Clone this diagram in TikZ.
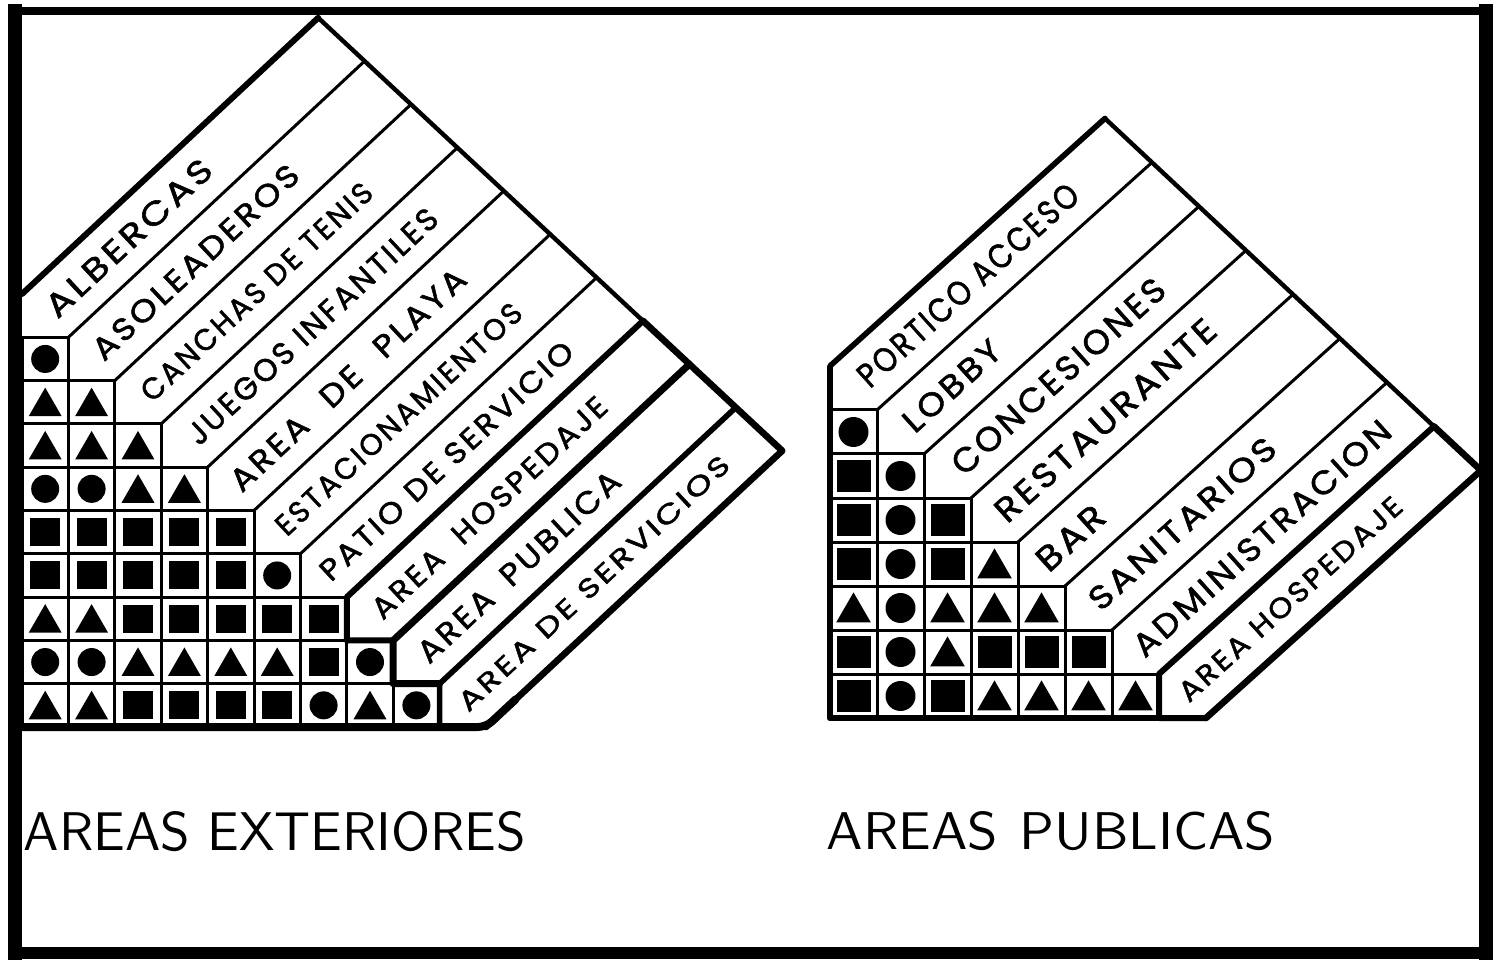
\documentclass[tikz,border=0pt]{standalone}
\usepackage{fontspec}
\usepackage{graphicx}
\usetikzlibrary{shapes.geometric,calc}
\newfontfamily\labfont{Poppins}[LetterSpace=9,FakeBold=1.6]
\begin{document}
\begin{tikzpicture}[x=0.5pt,y=-0.5pt,line join=round,line cap=round,
  thinln/.style={line width=1.5pt},
  medln/.style={line width=2.2pt},
  thkln/.style={line width=3.3pt},
  lab/.style={inner sep=0pt,outer sep=0pt},
  symC/.style={circle,fill,inner sep=0pt,minimum size=14pt},
  symS/.style={rectangle,fill,inner sep=0pt,minimum width=15pt,minimum height=14pt},
  symT/.style={regular polygon,regular polygon sides=3,fill,inner sep=0pt,minimum size=19pt,yshift=-2.2pt},
  rsymC/.style={symC,minimum size=15pt},
  rsymS/.style={symS,minimum width=17pt,minimum height=16pt},
  rsymT/.style={symT,minimum size=20pt}]
\fill[white] (0,0) rectangle (1499,962);
\useasboundingbox (0,0) rectangle (1499,962);

% ---------------- page frame ----------------
\coordinate (FTL) at (15,11);
\coordinate (FTR) at (1486,11);
\coordinate (FBR) at (1486,953);
\coordinate (FBL) at (15,953);
\draw[line width=4pt,line cap=rect] (FTL) -- (FTR);
\draw[line width=7pt,line cap=rect] (FTR) -- (FBR);
\draw[line width=6pt,line cap=rect] (FBR) -- (FBL);
\draw[line width=7pt,line cap=rect] (FBL) -- (FTL);

% ================= LEFT MATRIX =================
\def\LX{22}\def\LY{294}\def\LW{46.4}\def\LH{43.3}\def\LA{43}\def\LL{405}
\foreach \j in {0,...,10}{
  \pgfmathsetmacro\px{\LX+\j*\LW}\pgfmathsetmacro\py{\LY+\j*\LH}
  \pgfmathsetmacro\tx{\px+\LL*cos(\LA)}\pgfmathsetmacro\ty{\py-\LL*sin(\LA)}
  \pgfmathsetmacro\sy{\py+\LH}
  \coordinate (LP\j) at (\px,\py);
  \coordinate (LT\j) at (\tx,\ty);
  \coordinate (LS\j) at (\px,\sy);
}
\coordinate (LB) at (15,{\LY+10*\LH});
% cells
\foreach \r in {1,...,9}{\foreach \c in {1,...,\r}{
  \draw[thinln] ({\LX+(\c-1)*\LW},{\LY+\r*\LH}) rectangle ({\LX+\c*\LW},{\LY+(\r+1)*\LH});
}}
% symbols
\foreach \r/\row in {1/{C},2/{T,T},3/{T,T,T},4/{C,C,T,T},5/{S,S,S,S,S},6/{S,S,S,S,S,C},7/{T,T,S,S,S,S,S},8/{C,C,T,T,T,T,S,C},9/{T,T,S,S,S,S,C,T,C}}{
  \foreach \sy [count=\c] in \row {
    \pgfmathsetmacro\cx{\LX+(\c-0.5)*\LW}
    \pgfmathsetmacro\cy{\LY+(\r+0.5)*\LH}
    \node[sym\sy] (LC\r-\c) at (\cx,\cy) {};
  }
}
% band dividers
\foreach \j in {1,...,6} \draw[thinln] (LP\j) -- (LT\j);
\draw[line width=3pt] (LT7) -- (LP7) -- (LS7) -- (LP8);
\draw[line width=3.5pt] (LT8) -- (LP8) -- (LS8) -- (LP9);
\draw[line width=2.8pt] (LT9) -- (LP9) -- (LS9) -- (LP10);
% outline
\draw[line width=3pt] (LP0) -- (LT0);
\draw[medln] (LT0) -- (LT7);
\draw[thkln] (LT7) -- (LT10) -- (LP10);
\draw[line width=4pt,rounded corners=4pt] (LB) -- (LP10) -- ($(LP10)!0.1!(LT10)$);

% labels
\foreach \k/\LabS/\LabW/\LabH/\txt in {
  1/114/215/23/ALBERCAS,
  2/142/270/22/ASOLEADEROS,
  3/162/305/21/CANCHAS DE TENIS,
  4/175/330/22/JUEGOS INFANTILES,
  5/160/310/22/AREA\hspace{0.8em}DE\hspace{0.8em}PLAYA,
  6/166/325/21/ESTACIONAMIENTOS,
  7/168/335/21/PATIO DE SERVICIO,
  8/163/310/21/AREA\hspace{0.7em}HOSPEDAJE,
  9/140/265/22/AREA\hspace{0.6em}PUBLICA,
  10/179/360/19/AREA DE SERVICIOS}{
  \pgfmathsetmacro\mx{\LX+(\k-0.5)*\LW+\LabS*cos(\LA)}
  \pgfmathsetmacro\my{\LY+(\k-0.5)*\LH-\LabS*sin(\LA)}
  \pgfmathsetmacro\Wp{\LabW/2}\pgfmathsetmacro\Hp{\LabH/2}
  \node[lab,rotate=\LA] (LN\k) at (\mx,\my) {\resizebox{\Wp pt}{\Hp pt}{\labfont \txt}};
}

% ================= RIGHT MATRIX =================
\def\RX{830}\def\RY{366}\def\RW{47}\def\RH{44}\def\RA{42}\def\RL{370}
\foreach \j in {0,...,8}{
  \pgfmathsetmacro\px{\RX+\j*\RW}\pgfmathsetmacro\py{\RY+\j*\RH}
  \pgfmathsetmacro\tx{\px+\RL*cos(\RA)}\pgfmathsetmacro\ty{\py-\RL*sin(\RA)}
  \pgfmathsetmacro\sy{\py+\RH}
  \coordinate (RP\j) at (\px,\py);
  \coordinate (RT\j) at (\tx,\ty);
  \coordinate (RS\j) at (\px,\sy);
}
\coordinate (RB) at (\RX,{\RY+8*\RH});
\foreach \r in {1,...,7}{\foreach \c in {1,...,\r}{
  \draw[thinln] ({\RX+(\c-1)*\RW},{\RY+\r*\RH}) rectangle ({\RX+\c*\RW},{\RY+(\r+1)*\RH});
}}
\foreach \r/\row in {1/{C},2/{S,C},3/{S,C,S},4/{S,C,S,T},5/{T,C,T,T,T},6/{S,C,T,S,S,S},7/{S,C,S,T,T,T,T}}{
  \foreach \sy [count=\c] in \row {
    \pgfmathsetmacro\cx{\RX+(\c-0.5)*\RW}
    \pgfmathsetmacro\cy{\RY+(\r+0.5)*\RH}
    \node[rsym\sy] (RC\r-\c) at (\cx,\cy) {};
  }
}
\foreach \j in {1,...,6} \draw[thinln] (RP\j) -- (RT\j);
\draw[line width=3pt] (RT7) -- (RP7) -- (RS7) -- (RP8);
\draw[line width=2.8pt] (RB) -- (RP0) -- (RT0);
\draw[medln] (RT0) -- (RT7);
\draw[thkln] (RT7) -- (RT8) -- (RP8);
\draw[line width=3pt] (RB) -- (RP8);

\foreach \k/\LabS/\LabW/\LabH/\txt in {
  1/154/285/24/PORTICO ACCESO,
  2/69/120/23/LOBBY,
  3/149/275/24/CONCESIONES,
  4/149/285/24/RESTAURANTE,
  5/39/80/24/BAR,
  6/126/240/23/SANITARIOS,
  7/170/335/23/ADMINISTRACION,
  8/145/290/20/AREA HOSPEDAJE}{
  \pgfmathsetmacro\mx{\RX+(\k-0.5)*\RW+\LabS*cos(\RA)}
  \pgfmathsetmacro\my{\RY+(\k-0.5)*\RH-\LabS*sin(\RA)}
  \pgfmathsetmacro\Wp{\LabW/2}\pgfmathsetmacro\Hp{\LabH/2}
  \node[lab,rotate=\RA] (RN\k) at (\mx,\my) {\resizebox{\Wp pt}{\Hp pt}{\labfont \txt}};
}

% ================= TITLES =================
\node[lab] (TL) at (275,832) {\resizebox{251pt}{19.5pt}{\sffamily AREAS EXTERIORES}};
\node[lab] (TR) at (1051,831) {\resizebox{224pt}{19pt}{\sffamily AREAS\hspace{0.4em}PUBLICAS}};
\end{tikzpicture}
\end{document}
